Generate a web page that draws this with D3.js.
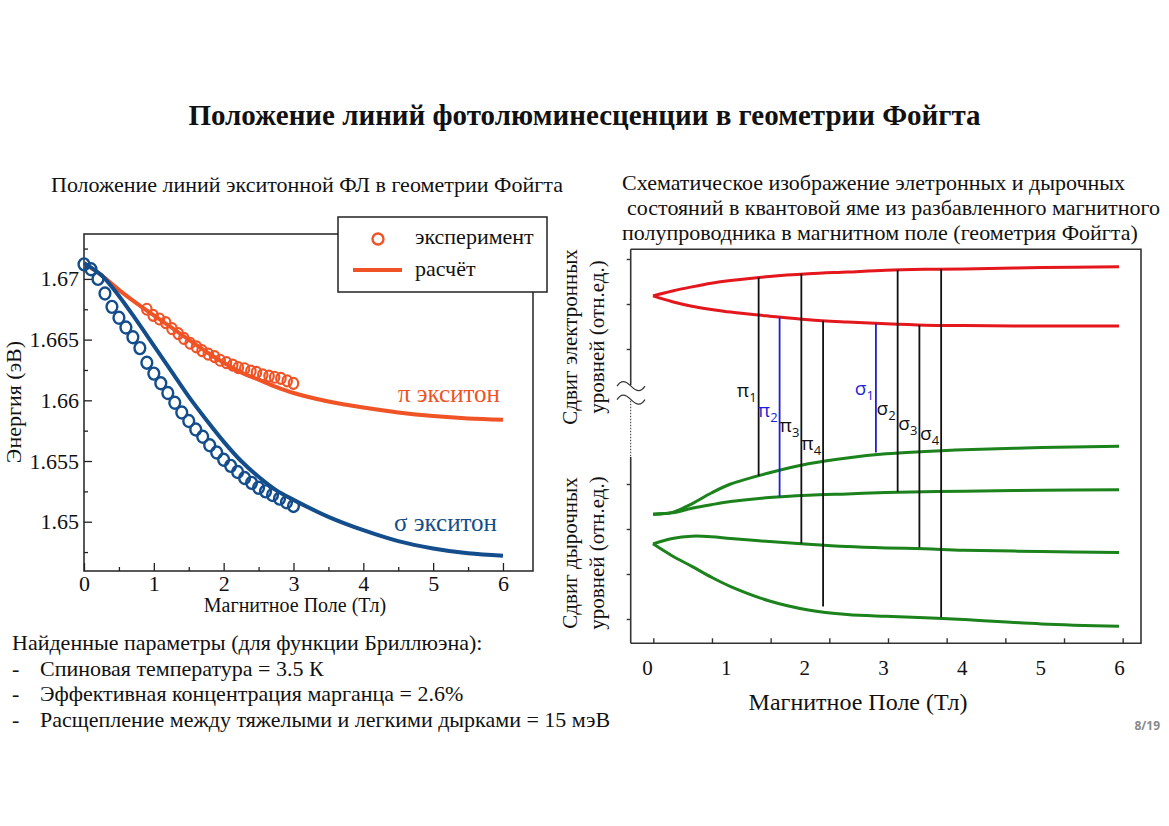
<!DOCTYPE html>
<html>
<head>
<meta charset="utf-8">
<script src="https://cdn.jsdelivr.net/npm/d3@7"></script>
<style>
  body { margin: 0; background: #fff; }
  text { font-family: "Liberation Serif", "Times New Roman", serif; fill: #111; }
</style>
</head>
<body>
<div id="chart"></div>
<script>
// ---- left chart: exciton PL line positions ----
const fieldSigmaExp = [0.0, 0.1, 0.2, 0.3, 0.4, 0.5, 0.6, 0.7, 0.8, 0.9, 1.0, 1.1, 1.2, 1.3, 1.4, 1.5,
  1.6, 1.7, 1.8, 1.9, 2.0, 2.1, 2.2, 2.3, 2.4, 2.5, 2.6, 2.7, 2.8, 2.9, 3.0];
const sigmaExp = [1.6712, 1.6708, 1.6700, 1.6688, 1.6677, 1.6668, 1.6660, 1.6652, 1.6643, 1.6631, 1.6622,
  1.6614, 1.6606, 1.6598, 1.6590, 1.6583, 1.6576, 1.6570, 1.6563, 1.6557, 1.6551, 1.6546, 1.6541, 1.6536,
  1.6532, 1.6528, 1.6525, 1.6522, 1.6519, 1.6516, 1.6513];
const fieldPiExp = [0.90, 0.99, 1.08, 1.17, 1.26, 1.35, 1.43, 1.52, 1.61, 1.69, 1.78, 1.87, 1.95, 2.04,
  2.13, 2.21, 2.30, 2.39, 2.47, 2.56, 2.65, 2.73, 2.82, 2.91, 3.00];
const piExp = [1.6675, 1.6670, 1.6667, 1.6664, 1.6659, 1.6655, 1.6651, 1.6647, 1.6644, 1.6641, 1.6638,
  1.6636, 1.6633, 1.6631, 1.6629, 1.6627, 1.6626, 1.6624, 1.6623, 1.6621, 1.6620, 1.6619, 1.6618, 1.6616, 1.6614];
const fieldCalc = [0, 0.25, 0.5, 0.75, 1.0, 1.25, 1.5, 1.75, 2.0, 2.25, 2.5, 2.75, 3.0, 3.5, 4.0, 4.5, 5.0, 5.5, 6.0];
const piCalc = [1.6713, 1.6703, 1.6691, 1.6680, 1.6670, 1.6660, 1.6650, 1.6640, 1.6631, 1.6623, 1.6617,
  1.6611, 1.6606, 1.6599, 1.6594, 1.6590, 1.6587, 1.6585, 1.6584];
const sigmaCalc = [1.6713, 1.6703, 1.6686, 1.6666, 1.6645, 1.6624, 1.6603, 1.6584, 1.6566, 1.6550, 1.6537,
  1.6526, 1.6518, 1.6504, 1.6493, 1.6484, 1.6478, 1.6474, 1.6472];
const fieldTicks = [0, 1, 2, 3, 4, 5, 6];
const fieldMinor = [0.5, 1.5, 2.5, 3.5, 4.5, 5.5];
const energyTicks = [1.65, 1.655, 1.66, 1.665, 1.67];
const energyMinor = [1.6475, 1.6525, 1.6575, 1.6625, 1.6675, 1.6725];

// ---- right chart: schematic levels (arbitrary units) ----
const fieldLevels = [0, 0.25, 0.5, 0.75, 1.0, 1.5, 2.0, 2.5, 3.0, 3.5, 4.0, 5.0, 6.0];
const elecUpper = [7.18, 7.29, 7.38, 7.46, 7.52, 7.61, 7.67, 7.71, 7.75, 7.77, 7.78, 7.81, 7.83];
const elecLower = [7.18, 7.05, 6.95, 6.88, 6.82, 6.73, 6.65, 6.60, 6.56, 6.53, 6.52, 6.51, 6.51];
const holeA = [2.33, 2.37, 2.56, 2.80, 3.00, 3.25, 3.45, 3.58, 3.67, 3.72, 3.76, 3.81, 3.84];
const holeB = [2.33, 2.36, 2.46, 2.54, 2.61, 2.70, 2.75, 2.78, 2.81, 2.83, 2.84, 2.86, 2.87];
const holeC = [1.67, 1.79, 1.84, 1.83, 1.79, 1.72, 1.66, 1.61, 1.58, 1.56, 1.53, 1.50, 1.48];
const holeD = [1.67, 1.40, 1.17, 0.93, 0.72, 0.40, 0.20, 0.10, 0.06, 0.03, -0.01, -0.11, -0.16];
const transNames = ["π", "π", "π", "π", "σ", "σ", "σ", "σ"];
const transIndex = ["1", "2", "3", "4", "1", "2", "3", "4"];
const transField = [1.36, 1.63, 1.91, 2.19, 2.87, 3.15, 3.43, 3.71];
const transTop = [7.59, 6.70, 7.67, 6.63, 6.56, 7.76, 6.53, 7.77];
const transBottom = [3.18, 2.72, 1.68, 0.28, 3.70, 2.82, 1.59, 0.04];
const transLabelY = [4.93, 4.49, 4.16, 3.76, 4.98, 4.53, 4.20, 3.98];
const transBlue = [false, true, false, false, true, false, false, false];
const levelTicks = [0, 1, 2, 3, 6, 7, 8];
const schemTickMarks = [0, 1, 2, 3, 4, 5, 6, 7, 8];
const schemLabels = [0, 1, 2, 3, 4, 5, 6];

const params = [
  "Найденные параметры (для функции Бриллюэна):",
  "Спиновая температура = 3.5 К",
  "Эффективная концентрация марганца = 2.6%",
  "Расщепление между тяжелыми и легкими дырками = 15 мэВ"
];

const ORANGE = "#ef5326", BLUE = "#134d8b", RED = "#e4171d", GREEN = "#1b821c", TBLUE = "#1f1fd6";

const svg = d3.select("#chart").append("svg").attr("width", 1169).attr("height", 826);
svg.append("rect").attr("width", 1169).attr("height", 826).attr("fill", "#fff");

svg.append("text").attr("x", 584.5).attr("y", 125).attr("text-anchor", "middle")
  .style("font-size", "29px").style("font-weight", "bold")
  .text("Положение линий фотолюминесценции в геометрии Фойгта");

// ================= left chart =================
const xL = d3.scaleLinear().domain([0, 6.43]).range([84, 533]);
const yL = d3.scaleLinear().domain([1.64594, 1.6737]).range([571, 234]);

svg.append("text").attr("x", 51).attr("y", 192).style("font-size", "22px")
  .text("Положение линий экситонной ФЛ в геометрии Фойгта");

const gL = svg.append("g");
gL.append("g").attr("transform", "translate(0,571)")
  .call(d3.axisBottom(xL).tickValues(fieldMinor).tickSize(-4).tickFormat(""));
gL.append("g").attr("transform", "translate(0,571)")
  .call(d3.axisBottom(xL).tickValues(fieldTicks).tickSize(-8).tickPadding(4).tickFormat(d3.format("d")))
  .call(g => g.selectAll("text").style("font-size", "22px"));
gL.append("g").attr("transform", "translate(84,0)")
  .call(d3.axisLeft(yL).tickValues(energyMinor).tickSize(-4).tickFormat(""));
gL.append("g").attr("transform", "translate(84,0)")
  .call(d3.axisLeft(yL).tickValues(energyTicks).tickSize(-8).tickPadding(5).tickFormat(d => String(d)))
  .call(g => g.selectAll("text").style("font-size", "22px"));
gL.selectAll(".domain").remove();
gL.selectAll(".tick line").attr("stroke", "#222").attr("stroke-width", 1.3);
gL.selectAll(".tick text").attr("fill", "#111").style("font-family", "'Liberation Serif', serif");

gL.append("rect").attr("x", 84).attr("y", 234).attr("width", 449).attr("height", 337)
  .attr("fill", "none").attr("stroke", "#222").attr("stroke-width", 1.5);

const lineL = d3.line().x(d => xL(d[0])).y(d => yL(d[1])).curve(d3.curveCatmullRom);
gL.append("path").attr("d", lineL(d3.zip(fieldCalc, piCalc)))
  .attr("fill", "none").attr("stroke", ORANGE).attr("stroke-width", 4);
gL.append("path").attr("d", lineL(d3.zip(fieldCalc, sigmaCalc)))
  .attr("fill", "none").attr("stroke", BLUE).attr("stroke-width", 4);

gL.selectAll(".pi-exp").data(d3.zip(fieldPiExp, piExp)).enter().append("ellipse")
  .attr("cx", d => xL(d[0])).attr("cy", d => yL(d[1])).attr("rx", 4.7).attr("ry", 5.5)
  .attr("fill", "none").attr("stroke", ORANGE).attr("stroke-width", 2.2);
gL.selectAll(".sigma-exp").data(d3.zip(fieldSigmaExp, sigmaExp)).enter().append("ellipse")
  .attr("cx", d => xL(d[0])).attr("cy", d => yL(d[1])).attr("rx", 5.4).attr("ry", 6)
  .attr("fill", "none").attr("stroke", BLUE).attr("stroke-width", 2.4);

gL.append("text").attr("x", 500).attr("y", 402).attr("text-anchor", "end")
  .style("font-size", "25px").style("fill", ORANGE).text("π экситон");
gL.append("text").attr("x", 497).attr("y", 531).attr("text-anchor", "end")
  .style("font-size", "25px").style("fill", BLUE).text("σ экситон");

// legend
const leg = svg.append("g");
leg.append("rect").attr("x", 338).attr("y", 217).attr("width", 209).attr("height", 75)
  .attr("fill", "#fff").attr("stroke", "#222").attr("stroke-width", 1.5);
leg.append("circle").attr("cx", 378).attr("cy", 239).attr("r", 5.5)
  .attr("fill", "none").attr("stroke", ORANGE).attr("stroke-width", 2.4);
leg.append("line").attr("x1", 353).attr("x2", 402).attr("y1", 270).attr("y2", 270)
  .attr("stroke", ORANGE).attr("stroke-width", 4);
leg.append("text").attr("x", 415).attr("y", 244).style("font-size", "22px").text("эксперимент");
leg.append("text").attr("x", 415).attr("y", 276).style("font-size", "22px").text("расчёт");

gL.append("text").attr("x", 295).attr("y", 612).attr("text-anchor", "middle")
  .style("font-size", "20px").text("Магнитное Поле (Тл)");
gL.append("text").attr("transform", "translate(21,402) rotate(-90)").attr("text-anchor", "middle")
  .style("font-size", "22px").text("Энергия (эВ)");

// found parameters
const pg = svg.append("g");
params.forEach((t, i) => {
  const y = 650 + i * 25.5;
  if (i > 0) pg.append("text").attr("x", 12).attr("y", y).style("font-size", "22px").text("-");
  pg.append("text").attr("x", i === 0 ? 12 : 40).attr("y", y).style("font-size", "22px").text(t);
});

// ================= right chart =================
const xR = d3.scaleLinear().domain([0, 6]).range([653, 1119]);
const xRLabel = d3.scaleLinear().domain([0, 6]).range([647, 1119]);
const xRTick = d3.scaleLinear().domain([0, 8]).range([653.3, 1122.7]);
const yR = d3.scaleLinear().domain([0, 8]).range([619, 259]);

["Схематическое изображение элетронных и дырочных",
 " состояний в квантовой яме из разбавленного магнитного",
 "полупроводника в магнитном поле (геометрия Фойгта)"].forEach((t, i) => {
  svg.append("text").attr("x", i === 1 ? 627 : 622).attr("y", 190 + i * 25)
    .style("font-size", "22px").text(t.trim());
});

const gR = svg.append("g");
const fL = 630.7, fR = 1141, fT = 249.3, fB = 643.3;
gR.append("path").attr("d", `M${fL},${fT}H${fR}V${fB}H${fL}`)
  .attr("fill", "none").attr("stroke", "#333").attr("stroke-width", 1.6);
// broken left axis
gR.append("line").attr("x1", fL).attr("x2", fL).attr("y1", fT).attr("y2", yR(5.2))
  .attr("stroke", "#333").attr("stroke-width", 1.6);
gR.append("line").attr("x1", fL).attr("x2", fL).attr("y1", yR(4.85)).attr("y2", yR(3.6))
  .attr("stroke", "#333").attr("stroke-width", 1).attr("stroke-dasharray", "1.5,1.5");
gR.append("line").attr("x1", fL).attr("x2", fL).attr("y1", yR(3.6)).attr("y2", fB)
  .attr("stroke", "#333").attr("stroke-width", 1.6);
[5.22, 4.92].forEach(v => {
  const y = yR(v);
  gR.append("path").attr("d", `M617,${y + 2}c4,-6 8,-6 14,0s10,6 14,0`)
    .attr("fill", "none").attr("stroke", "#333").attr("stroke-width", 1.2);
});

gR.append("g").attr("transform", `translate(${fL},0)`)
  .call(d3.axisLeft(yR).tickValues(levelTicks).tickSize(4).tickFormat(""));
gR.append("g").attr("transform", `translate(0,${fB})`)
  .call(d3.axisBottom(xRTick).tickValues(schemTickMarks).tickSize(-5).tickFormat(""));
gR.append("g").attr("transform", `translate(0,${fB})`)
  .call(d3.axisBottom(xRLabel).tickValues(schemLabels).tickSize(0).tickPadding(17).tickFormat(d3.format("d")))
  .call(g => g.selectAll("text").style("font-size", "21px"));
gR.selectAll(".domain").remove();
gR.selectAll(".tick line").attr("stroke", "#333").attr("stroke-width", 1.4);
gR.selectAll(".tick text").attr("fill", "#111").style("font-family", "'Liberation Serif', serif");

const lineR = d3.line().x(d => xR(d[0])).y(d => yR(d[1])).curve(d3.curveCatmullRom);
[[elecUpper, RED], [elecLower, RED], [holeA, GREEN], [holeB, GREEN], [holeC, GREEN], [holeD, GREEN]]
  .forEach(([vals, col]) => {
    gR.append("path").attr("d", lineR(d3.zip(fieldLevels, vals)))
      .attr("fill", "none").attr("stroke", col).attr("stroke-width", 3);
  });

transField.forEach((f, i) => {
  const col = transBlue[i] ? TBLUE : "#111";
  gR.append("line").attr("x1", xR(f)).attr("x2", xR(f))
    .attr("y1", yR(transTop[i])).attr("y2", yR(transBottom[i]))
    .attr("stroke", col).attr("stroke-width", 1.8);
  const t = gR.append("text").attr("x", xR(f) - 2).attr("y", yR(transLabelY[i]))
    .attr("text-anchor", "end")
    .style("font-family", "'Open Sans', 'DejaVu Sans', sans-serif").style("font-size", "19px")
    .style("fill", col);
  t.append("tspan").text(transNames[i]);
  t.append("tspan").attr("dy", 5).style("font-size", "13px").text(transIndex[i]);
});

// right axis titles
[["Сдвиг электронных", "уровней (отн.ед.)", 337], ["Сдвиг дырочных", "уровней (отн.ед.)", 553]]
  .forEach(([a, b, cy]) => {
    gR.append("text").attr("transform", `translate(577,${cy}) rotate(-90)`).attr("text-anchor", "middle")
      .style("font-size", "21px").text(a);
    gR.append("text").attr("transform", `translate(604,${cy}) rotate(-90)`).attr("text-anchor", "middle")
      .style("font-size", "21px").text(b);
  });

gR.append("text").attr("x", 858).attr("y", 710).attr("text-anchor", "middle")
  .style("font-size", "24px").text("Магнитное Поле (Тл)");

svg.append("text").attr("x", 1160).attr("y", 730).attr("text-anchor", "end")
  .style("font-family", "'Open Sans', sans-serif").style("font-size", "12px").style("font-weight", "bold")
  .style("fill", "#8a8a8a").text("8/19");
</script>
</body>
</html>
